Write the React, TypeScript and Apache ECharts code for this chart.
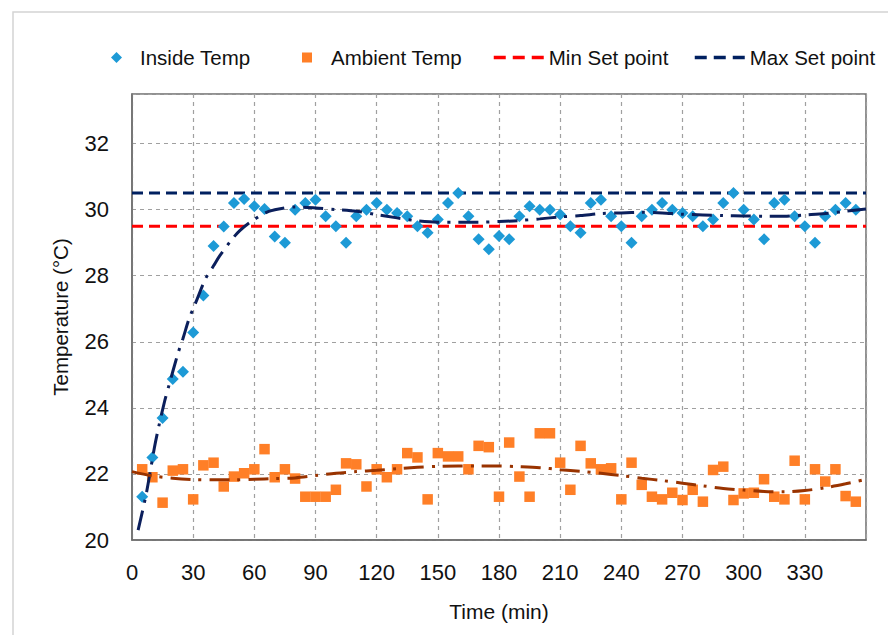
import React, { useEffect, useRef } from "react";
import * as echarts from "echarts";

const TIMES = [
  5, 10, 15, 20, 25, 30, 35, 40, 45, 50,
  55, 60, 65, 70, 75, 80, 85, 90, 95, 100,
  105, 110, 115, 120, 125, 130, 135, 140, 145, 150,
  155, 160, 165, 170, 175, 180, 185, 190, 195, 200,
  205, 210, 215, 220, 225, 230, 235, 240, 245, 250,
  255, 260, 265, 270, 275, 280, 285, 290, 295, 300,
  305, 310, 315, 320, 325, 330, 335, 340, 345, 350,
  355,
];

const INSIDE_TEMP = [
  21.31, 22.5, 23.69, 24.87, 25.09, 26.28, 27.4, 28.9, 29.49, 30.2,
  30.32, 30.1, 30.02, 29.19, 29.0, 30.0, 30.2, 30.3, 29.8, 29.5,
  29.0, 29.8, 30.0, 30.2, 30.0, 29.9, 29.8, 29.5, 29.3, 29.7,
  30.2, 30.5, 29.8, 29.1, 28.8, 29.2, 29.1, 29.8, 30.1, 30.0,
  30.0, 29.85, 29.5, 29.3, 30.2, 30.3, 29.8, 29.5, 29.0, 29.8,
  30.0, 30.2, 30.0, 29.9, 29.8, 29.5, 29.7, 30.2, 30.5, 30.0,
  29.7, 29.1, 30.2, 30.3, 29.8, 29.5, 29.0, 29.8, 30.0, 30.2,
  30.0,
];

const AMBIENT_TEMP = [
  22.14, 21.9, 21.13, 22.1, 22.14, 21.23, 22.26, 22.34, 21.62, 21.92,
  22.02, 22.14, 22.75, 21.9, 22.14, 21.86, 21.31, 21.31, 21.31, 21.52,
  22.32, 22.29, 21.62, 22.14, 21.9, 22.14, 22.63, 22.5, 21.23, 22.63,
  22.53, 22.53, 22.14, 22.85, 22.81, 21.31, 22.95, 21.92, 21.31, 23.23,
  23.23, 22.34, 21.52, 22.85, 22.32, 22.14, 22.17, 21.23, 22.34, 21.67,
  21.31, 21.23, 21.43, 21.21, 21.52, 21.16, 22.12, 22.22, 21.21, 21.41,
  21.43, 21.84, 21.31, 21.23, 22.4, 21.23, 22.14, 21.77, 22.14, 21.33,
  21.16,
];

const INSIDE_TREND_TIME = [
  3, 7, 11, 13, 16, 18, 22.5, 25, 28, 30, 32, 36, 40, 43, 49, 53, 58, 66, 72,
  80, 90, 100, 110, 120, 130, 140, 150, 160, 170, 180, 190, 200, 210, 220,
  230, 240, 250, 260, 270, 280, 290, 300, 310, 320, 330, 340, 350, 360,
];
const INSIDE_TREND_TEMP = [
  20.3, 21.4, 22.8, 23.4, 24.2, 24.65, 25.64, 26.1, 26.7, 27.0, 27.3, 27.9,
  28.3, 28.6, 29.1, 29.37, 29.62, 29.92, 30.02,
  30.08, 30.05, 30.0, 29.95, 29.85, 29.75, 29.66, 29.62, 29.62, 29.62, 29.64,
  29.67, 29.72, 29.78, 29.82, 29.88, 29.9, 29.92, 29.9, 29.86, 29.84, 29.82,
  29.81, 29.8, 29.8, 29.84, 29.88, 29.95, 30.02,
];

const AMBIENT_TREND_TIME = [
  0, 10, 20, 30, 40, 50, 60, 70, 80, 90, 100, 110, 120, 130, 140, 150, 160,
  170, 180, 190, 200, 210, 220, 230, 240, 250, 260, 270, 280, 290, 300, 310,
  320, 330, 340, 350, 360,
];
const AMBIENT_TREND_TEMP = [
  22.07, 21.94, 21.87, 21.83, 21.82, 21.82, 21.84, 21.86, 21.88, 21.95, 22.02,
  22.07, 22.11, 22.16, 22.2, 22.23, 22.24, 22.24, 22.24, 22.22, 22.19, 22.13,
  22.08, 22.02, 21.95, 21.87, 21.8, 21.72, 21.64, 21.56, 21.51, 21.47, 21.46,
  21.5, 21.58, 21.7, 21.84,
];

const SET_POINT_MIN = 29.5;
const SET_POINT_MAX = 30.5;
const X_RANGE = [0, 360];

const FONT = "Liberation Sans";

export default function App() {
  const ref = useRef<HTMLDivElement>(null);

  useEffect(() => {
    const chart = echarts.init(ref.current as HTMLDivElement, null, {
      renderer: "svg",
    });
    const pair = (xs: number[], ys: number[]) => xs.map((x, i) => [x, ys[i]]);
    const legendText = (pad: number) => ({
      fontFamily: FONT,
      fontSize: 20.5,
      color: "#111",
      padding: [0, 0, 0, pad],
    });

    chart.setOption({
      animation: false,
      backgroundColor: "#fff",
      graphic: [
        {
          type: "rect",
          shape: { x: 13, y: 12, width: 900, height: 700 },
          style: { fill: "none", stroke: "#d4d4d4", lineWidth: 1.5 },
          silent: true,
          z: -10,
        },
      ],
      legend: [
        {
          data: [{ name: "Inside Temp", icon: "diamond" }],
          left: 106,
          top: 42,
          itemWidth: 11,
          itemHeight: 11,
          textStyle: legendText(13),
        },
        {
          data: [{ name: "Ambient Temp", icon: "rect" }],
          left: 297,
          top: 42,
          itemWidth: 10,
          itemHeight: 10,
          textStyle: legendText(14),
        },
        {
          data: ["Min Set point"],
          left: 487,
          top: 42,
          itemWidth: 50,
          itemHeight: 12,
          itemStyle: { opacity: 0 },
          lineStyle: { width: 3.5, type: [12, 7] },
          textStyle: legendText(0),
        },
        {
          data: ["Max Set point"],
          left: 688,
          top: 42,
          itemWidth: 50,
          itemHeight: 12,
          itemStyle: { opacity: 0 },
          lineStyle: { width: 3.5, type: [12, 7] },
          textStyle: legendText(0),
        },
      ],
      grid: {
        left: 132,
        right: 22,
        top: 94,
        bottom: 95,
        show: true,
        borderColor: "#6e6e6e",
        borderWidth: 1.5,
        outerBoundsMode: "none",
      },
      xAxis: {
        type: "value",
        min: X_RANGE[0],
        max: X_RANGE[1],
        interval: 30,
        name: "Time (min)",
        nameLocation: "middle",
        nameGap: 61,
        nameTextStyle: { fontFamily: FONT, fontSize: 21, color: "#111" },
        axisLine: { show: true, lineStyle: { color: "#6e6e6e", width: 1.5 } },
        axisTick: { show: false },
        axisLabel: {
          fontFamily: FONT,
          fontSize: 22,
          color: "#111",
          margin: 21,
          showMaxLabel: false,
        },
        splitLine: {
          show: true,
          lineStyle: { color: "#a0a0a0", type: [4, 4], width: 1.2 },
        },
      },
      yAxis: {
        type: "value",
        min: 20,
        max: 33.5,
        interval: 2,
        name: "Temperature (°C)",
        nameLocation: "middle",
        nameGap: 61,
        nameTextStyle: { fontFamily: FONT, fontSize: 20.5, color: "#111" },
        axisLine: { show: true, lineStyle: { color: "#6e6e6e", width: 1.5 } },
        axisTick: { show: false },
        axisLabel: {
          fontFamily: FONT,
          fontSize: 22,
          color: "#111",
          margin: 23,
          showMaxLabel: false,
        },
        splitLine: {
          show: true,
          lineStyle: { color: "#a0a0a0", type: [4, 4], width: 1.2 },
        },
      },
      series: [
        {
          name: "Min Set point",
          type: "line",
          data: [
            [X_RANGE[0], SET_POINT_MIN],
            [X_RANGE[1], SET_POINT_MIN],
          ],
          symbol: "none",
          lineStyle: { color: "#ff0000", width: 3, type: [11, 6] },
          itemStyle: { color: "#ff0000" },
          z: 2,
        },
        {
          name: "Max Set point",
          type: "line",
          data: [
            [X_RANGE[0], SET_POINT_MAX],
            [X_RANGE[1], SET_POINT_MAX],
          ],
          symbol: "none",
          lineStyle: { color: "#002060", width: 3, type: [11, 6] },
          itemStyle: { color: "#002060" },
          z: 2,
        },
        {
          name: "Inside Temp",
          type: "scatter",
          data: pair(TIMES, INSIDE_TEMP),
          symbol: "diamond",
          symbolSize: 12,
          itemStyle: { color: "#1d9ad6", opacity: 1 },
          z: 3,
        },
        {
          name: "Ambient Temp",
          type: "scatter",
          data: pair(TIMES, AMBIENT_TEMP),
          symbol: "rect",
          symbolSize: 10.5,
          itemStyle: { color: "#ff7f27", opacity: 1 },
          z: 3,
        },
        {
          name: "Inside trend",
          type: "line",
          data: pair(INSIDE_TREND_TIME, INSIDE_TREND_TEMP),
          symbol: "none",
          smooth: 0.3,
          lineStyle: { color: "#0b1f5c", width: 3, type: [20, 8, 3, 8] },
          z: 4,
        },
        {
          name: "Ambient trend",
          type: "line",
          data: pair(AMBIENT_TREND_TIME, AMBIENT_TREND_TEMP),
          symbol: "none",
          smooth: 0.3,
          lineStyle: { color: "#993300", width: 3, type: [20, 8, 3, 8] },
          z: 4,
        },
      ],
    });
    return () => chart.dispose();
  }, []);

  return (
    <div
      ref={ref}
      style={{
        position: "fixed",
        left: 0,
        top: 0,
        width: 888,
        height: 635,
        background: "#fff",
      }}
    />
  );
}
